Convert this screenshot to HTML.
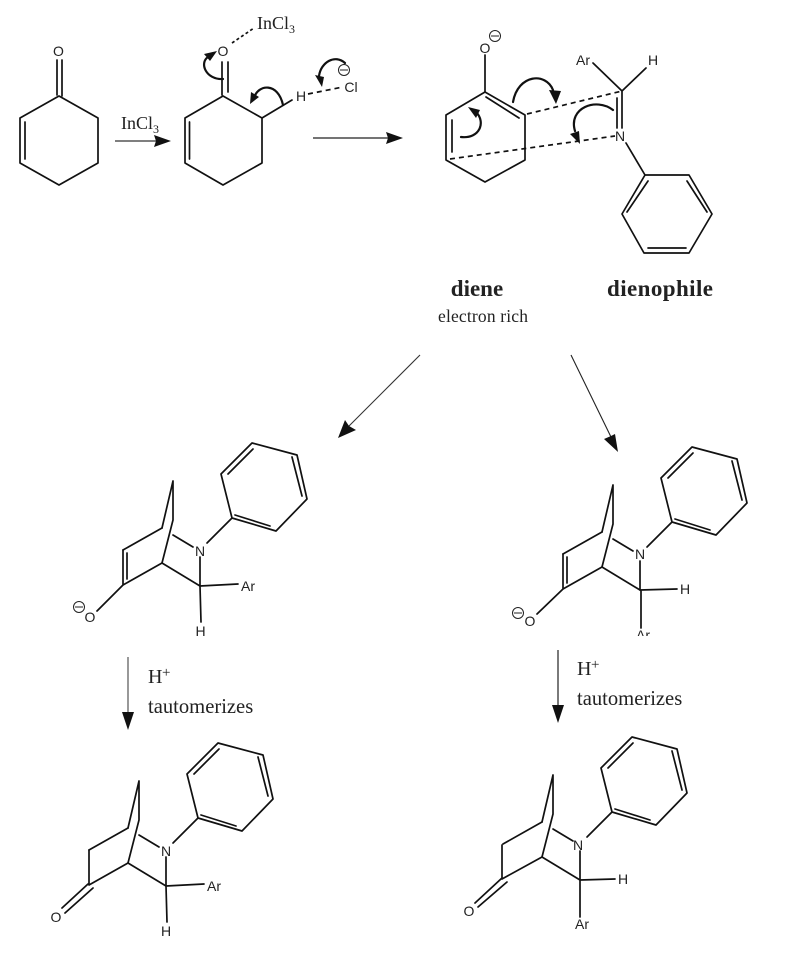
<!DOCTYPE html>
<html><head><meta charset="utf-8"><style>
html,body{margin:0;padding:0;background:#fff}
svg{display:block}
.b{fill:none;stroke:#111;stroke-width:1.7;stroke-linecap:round;stroke-linejoin:round}
.d{fill:none;stroke:#111;stroke-width:1.7;stroke-dasharray:5 4}
.e{fill:none;stroke:#111;stroke-width:1.7;stroke-dasharray:3 2.500}
.c{fill:none;stroke:#111;stroke-width:2.2;stroke-linecap:round}
.t{fill:#111;stroke:none}
.s{font-family:"Liberation Sans",sans-serif;font-size:14px;fill:#222;text-anchor:middle}
.r{font-family:"Liberation Serif",serif;fill:#222}
.m{fill:#fff;stroke:#222;stroke-width:1}
</style></head><body>
<svg width="808" height="968" viewBox="0 0 808 968" xmlns="http://www.w3.org/2000/svg">
<rect width="808" height="968" fill="#fff"/>
<defs>
<clipPath id="cl"><rect x="600" y="600" width="90" height="36"/></clipPath>
<g id="cage">
<path class="b" d="M252 443L297 455L307 499L276 531L232 518L221 474Z"/>
<path class="b" d="M253 449L228 474M292 457L302 496M270 526L235 515"/>
<path class="b" d="M207 543L232 518"/>
<path class="b" d="M162 528L173 481L173 520L162 563M173 535L193 547"/>
<path class="b" d="M162 528L123 550M162 563L200 586L200 557"/>
</g>
</defs>

<!-- molecule 1 -->
<path class="b" d="M59 96L98 118L98 163L59 185L20 163L20 118Z"/>
<path class="b" d="M25 122L25 159M57 60L57 95M62 60L62 96"/>
<text class="s" x="58.500" y="56">O</text>

<!-- arrow 1 -->
<path d="M115 141H156" stroke="#333" stroke-width="1.2" fill="none"/>
<path class="t" d="M171 141L154 135L156 141L154 147Z"/>
<text class="r" x="121" y="129" font-size="18">InCl<tspan font-size="12" dy="4">3</tspan></text>

<!-- molecule 2 -->
<path class="b" d="M223 96L262 118L262 163L223 185L185 163L185 118Z"/>
<path class="b" d="M189.500 122L189.500 159M222 62L222 95M228 62L228 92M262 118L292 100"/>
<text class="s" x="223" y="56">O</text>
<path class="e" d="M232 43L254 28"/>
<text class="r" x="257" y="29" font-size="18">InCl<tspan font-size="12" dy="4">3</tspan></text>
<text class="s" x="301" y="101">H</text>
<path class="d" d="M308 94L343 87"/>
<text class="s" x="351" y="92">Cl</text>
<circle class="m" cx="344" cy="70" r="5.500"/><path d="M340 70H348" stroke="#222" stroke-width="1"/>
<path class="c" d="M223 79C206 80 199 63 208 57"/><path class="t" d="M217 51L204 54L210 61Z"/>
<path class="c" d="M283 105C278 82 258 84 254 98"/><path class="t" d="M250 104L251 92L259 97Z"/>
<path class="c" d="M345 63C335 54 321 62 319 76"/><path class="t" d="M322 87L315 75L324 77Z"/>

<!-- arrow 2 -->
<path d="M313 138H388" stroke="#222" stroke-width="1.2" fill="none"/>
<path class="t" d="M403 138L386 132L388 138L386 144Z"/>

<!-- diene -->
<path class="b" d="M485 92L525 115L525 160L485 182L446 160L446 115Z"/>
<path class="b" d="M486 97L519 118M452 120L452 152M485 55L485 92"/>
<text class="s" x="485" y="53">O</text>
<circle class="m" cx="495" cy="36" r="5.500"/><path d="M491 36H499" stroke="#222" stroke-width="1"/>
<path class="d" d="M527 114L622 91M450 159L615 136"/>
<path class="c" d="M513 102C518 74 546 72 553 90"/><path class="t" d="M556 104L549 90L561 91Z"/>
<path class="c" d="M461 137C480 139 486 122 476 112"/><path class="t" d="M468 107L480 110L476 118Z"/>
<path class="c" d="M613 110C596 97 568 108 575 131"/><path class="t" d="M580 144L570 134L579 131Z"/>

<!-- dienophile -->
<path class="b" d="M593 63L622 91L646 68M617 98L617 128M622 91L622 128M626 143L645 175"/>
<text class="s" x="583" y="65">Ar</text>
<text class="s" x="653" y="65">H</text>
<text class="s" x="620" y="141">N</text>
<path class="b" d="M645 175L689 175L712 214L689 253L644 253L622 214Z"/>
<path class="b" d="M648 181L627 212M687 181L707 212M648 248L686 248"/>
<text class="r" x="477" y="296" font-size="23" font-weight="bold" text-anchor="middle">diene</text>
<text class="r" x="607" y="296" font-size="23" font-weight="bold" textLength="106">dienophile</text>
<text class="r" x="438" y="322" font-size="17.500" textLength="90">electron rich</text>

<!-- diagonal arrows -->
<path d="M420 355L348 427" stroke="#333" stroke-width="1.1" fill="none"/>
<path class="t" d="M338 438L345 420L349 426L356 430Z"/>
<path d="M571 355L611 437" stroke="#222" stroke-width="1.1" fill="none"/>
<path class="t" d="M618 452L604 439L611 436L615 434Z"/>

<!-- left product -->
<use href="#cage"/>
<path class="b" d="M123 550L123 585L162 563M127 553L127 579M123 585L97 611M200 586L238 584M200 586L201 622"/>
<text class="s" x="200" y="556">N</text>
<text class="s" x="248" y="591">Ar</text>
<text class="s" x="200.500" y="636">H</text>
<text class="s" x="90" y="622">O</text>
<circle class="m" cx="79" cy="607" r="5.500"/><path d="M75 607H83" stroke="#222" stroke-width="1"/>
<path d="M128 657V715" stroke="#555" stroke-width="1.2" fill="none"/>
<path class="t" d="M128 730L122 712L134 712Z"/>
<text class="r" x="148" y="683" font-size="20">H</text>
<text class="r" x="162" y="677" font-size="15">+</text>
<text class="r" x="148" y="713" font-size="20.600">tautomerizes</text>

<!-- right product -->
<use href="#cage" transform="translate(440 4)"/>
<path class="b" d="M563 554L563 589L602 567M567 557L567 583M563 589L537 614M640 590L677 589M641 590L641 628"/>
<text class="s" x="640" y="559">N</text>
<text class="s" x="685" y="594">H</text>
<text class="s" x="530" y="626">O</text>
<circle class="m" cx="518" cy="613" r="5.500"/><path d="M514 613H522" stroke="#222" stroke-width="1"/>
<g clip-path="url(#cl)"><text class="s" x="643" y="640">Ar</text></g>
<path d="M558 650V708" stroke="#222" stroke-width="1.2" fill="none"/>
<path class="t" d="M558 723L552 705L564 705Z"/>
<text class="r" x="577" y="675" font-size="20">H</text>
<text class="r" x="591" y="669" font-size="15">+</text>
<text class="r" x="577" y="705" font-size="20.600">tautomerizes</text>

<!-- bottom left -->
<use href="#cage" transform="translate(-34 300)"/>
<path class="b" d="M89 850L89 885L128 863M88 884L62 908M93 888L65 913M166 886L204 884M166 886L167 922"/>
<text class="s" x="166" y="856">N</text>
<text class="s" x="214" y="891">Ar</text>
<text class="s" x="166" y="936">H</text>
<text class="s" x="56" y="922">O</text>

<!-- bottom right -->
<use href="#cage" transform="translate(380 294)"/>
<path class="b" d="M502 845L502 879L542 857M502 878L475 903M507 882L478 907M580 880L615 879M580 880L580 917"/>
<text class="s" x="578" y="850">N</text>
<text class="s" x="623" y="884">H</text>
<text class="s" x="582" y="929">Ar</text>
<text class="s" x="469" y="916">O</text>
</svg>
</body></html>
